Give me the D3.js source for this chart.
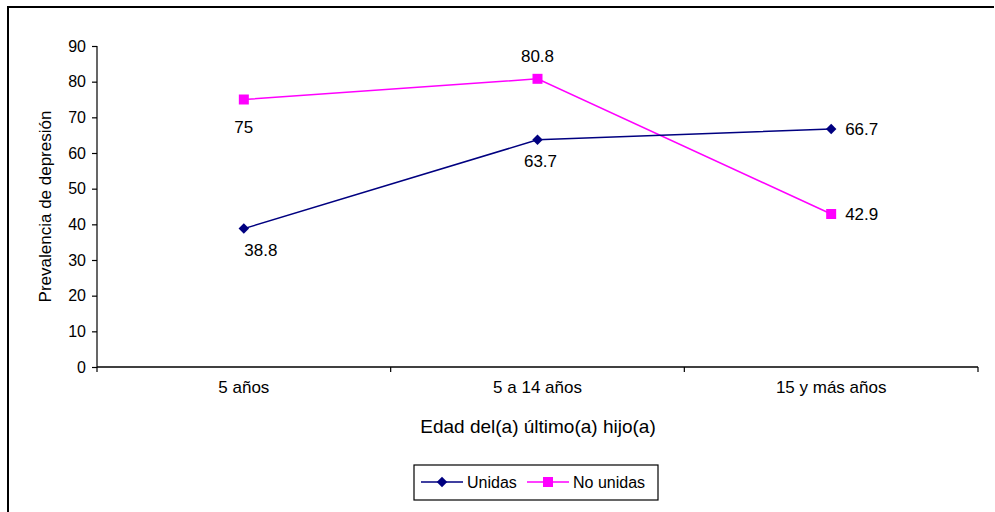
<!DOCTYPE html>
<html><head><meta charset="utf-8">
<script src="https://cdn.jsdelivr.net/npm/d3@7"></script>
<style>body{margin:0;background:#fff}text{font-family:"Liberation Sans",Arial,sans-serif;fill:#000}</style>
</head><body><svg id="c" width="995" height="512"></svg>
<script>
const categories = ["5 años", "5 a 14 años", "15 y más años"];
const unidas = [38.8, 63.7, 66.7];
const noUnidas = [75, 80.8, 42.9];
const seriesNames = ["Unidas", "No unidas"];
const yTicks = [0,10,20,30,40,50,60,70,80,90];
// label placement per point: [dx, dy, anchor]
const labelPosU = [[17,27,"middle"],[3,27,"middle"],[14,6,"start"]];
const labelPosN = [[0,33,"middle"],[0,-17,"middle"],[14,6,"start"]];

const svg = d3.select("#c");
const m = {l:97, r:978, t:46, b:367};
// frame
svg.append("line").attr("x1",8).attr("x2",994).attr("y1",7).attr("y2",7).attr("stroke","#000").attr("stroke-width",2);
svg.append("line").attr("x1",8).attr("x2",8).attr("y1",6).attr("y2",512).attr("stroke","#000").attr("stroke-width",2);

const x = d3.scaleBand().domain(categories).range([m.l, m.r]).padding(0);
const y = d3.scaleLinear().domain([0,90]).range([m.b, m.t]);
const cx = c => x(c) + x.bandwidth()/2;

// y axis
const ya = svg.append("g").attr("transform",`translate(${m.l},0)`)
  .call(d3.axisLeft(y).tickValues(yTicks).tickSize(5).tickPadding(6).tickFormat(d3.format("d")));
ya.selectAll("path,line").attr("stroke","#000").attr("stroke-width",1.2);
ya.selectAll("text").style("font-size","16px").style("font-family","Liberation Sans, Arial");
ya.select(".domain").attr("d",`M0,${m.t}V${m.b}`);

// x axis
const xa = svg.append("g").attr("transform",`translate(0,${m.b})`)
  .call(d3.axisBottom(x).tickSize(0).tickPadding(14));
xa.select(".domain").attr("d",`M${m.l},0H${m.r}`).attr("stroke","#000").attr("stroke-width",1.5);
xa.selectAll("text").style("font-size","17px").style("font-family","Liberation Sans, Arial");
const bounds = categories.map(c => x(c)).concat([m.r]);
svg.selectAll(".bt").data(bounds).enter().append("line")
  .attr("x1",d=>d).attr("x2",d=>d).attr("y1",m.b).attr("y2",m.b+5).attr("stroke","#000").attr("stroke-width",1.2);

// titles
svg.append("text").attr("transform",`translate(51,${(m.t+m.b)/2}) rotate(-90)`).attr("text-anchor","middle")
  .style("font-size","17px").text("Prevalencia de depresión");
svg.append("text").attr("x",538).attr("y",433).attr("text-anchor","middle").style("font-size","19px")
  .text("Edad del(a) último(a) hijo(a)");

const line = d3.line().x((d,i)=>cx(categories[i])).y(d=>y(d));
const colU = "#000080", colN = "#FF00FF";
svg.append("path").datum(noUnidas).attr("d",line).attr("fill","none").attr("stroke",colN).attr("stroke-width",1.5);
svg.append("path").datum(unidas).attr("d",line).attr("fill","none").attr("stroke",colU).attr("stroke-width",1.5);

const diamond = d3.symbol().type(d3.symbolDiamond2).size(70);
const square = d3.symbol().type(d3.symbolSquare).size(100);
svg.selectAll(".mu").data(unidas).enter().append("path").attr("d",diamond)
  .attr("transform",(d,i)=>`translate(${cx(categories[i])},${y(d)})`).attr("fill",colU);
svg.selectAll(".mn").data(noUnidas).enter().append("path").attr("d",square)
  .attr("transform",(d,i)=>`translate(${cx(categories[i])},${y(d)})`).attr("fill",colN);

function labels(data, pos){
  svg.selectAll(null).data(data).enter().append("text")
    .attr("x",(d,i)=>cx(categories[i])+pos[i][0]).attr("y",(d,i)=>y(d)+pos[i][1])
    .attr("text-anchor",(d,i)=>pos[i][2]).style("font-size","17px").text(d=>d);
}
labels(unidas, labelPosU);
labels(noUnidas, labelPosN);

// legend
const lg = svg.append("g");
lg.append("rect").attr("x",414).attr("y",465).attr("width",244).attr("height",35).attr("fill","#fff").attr("stroke","#000").attr("stroke-width",1.2);
const items = [{n:seriesNames[0],c:colU,s:diamond,x:421},{n:seriesNames[1],c:colN,s:square,x:527}];
items.forEach(it=>{
  lg.append("line").attr("x1",it.x).attr("x2",it.x+42).attr("y1",482).attr("y2",482).attr("stroke",it.c).attr("stroke-width",1.5);
  lg.append("path").attr("d",it.s).attr("transform",`translate(${it.x+21},482)`).attr("fill",it.c);
  lg.append("text").attr("x",it.x+46).attr("y",488).style("font-size","16px").text(it.n);
});
</script></body></html>
